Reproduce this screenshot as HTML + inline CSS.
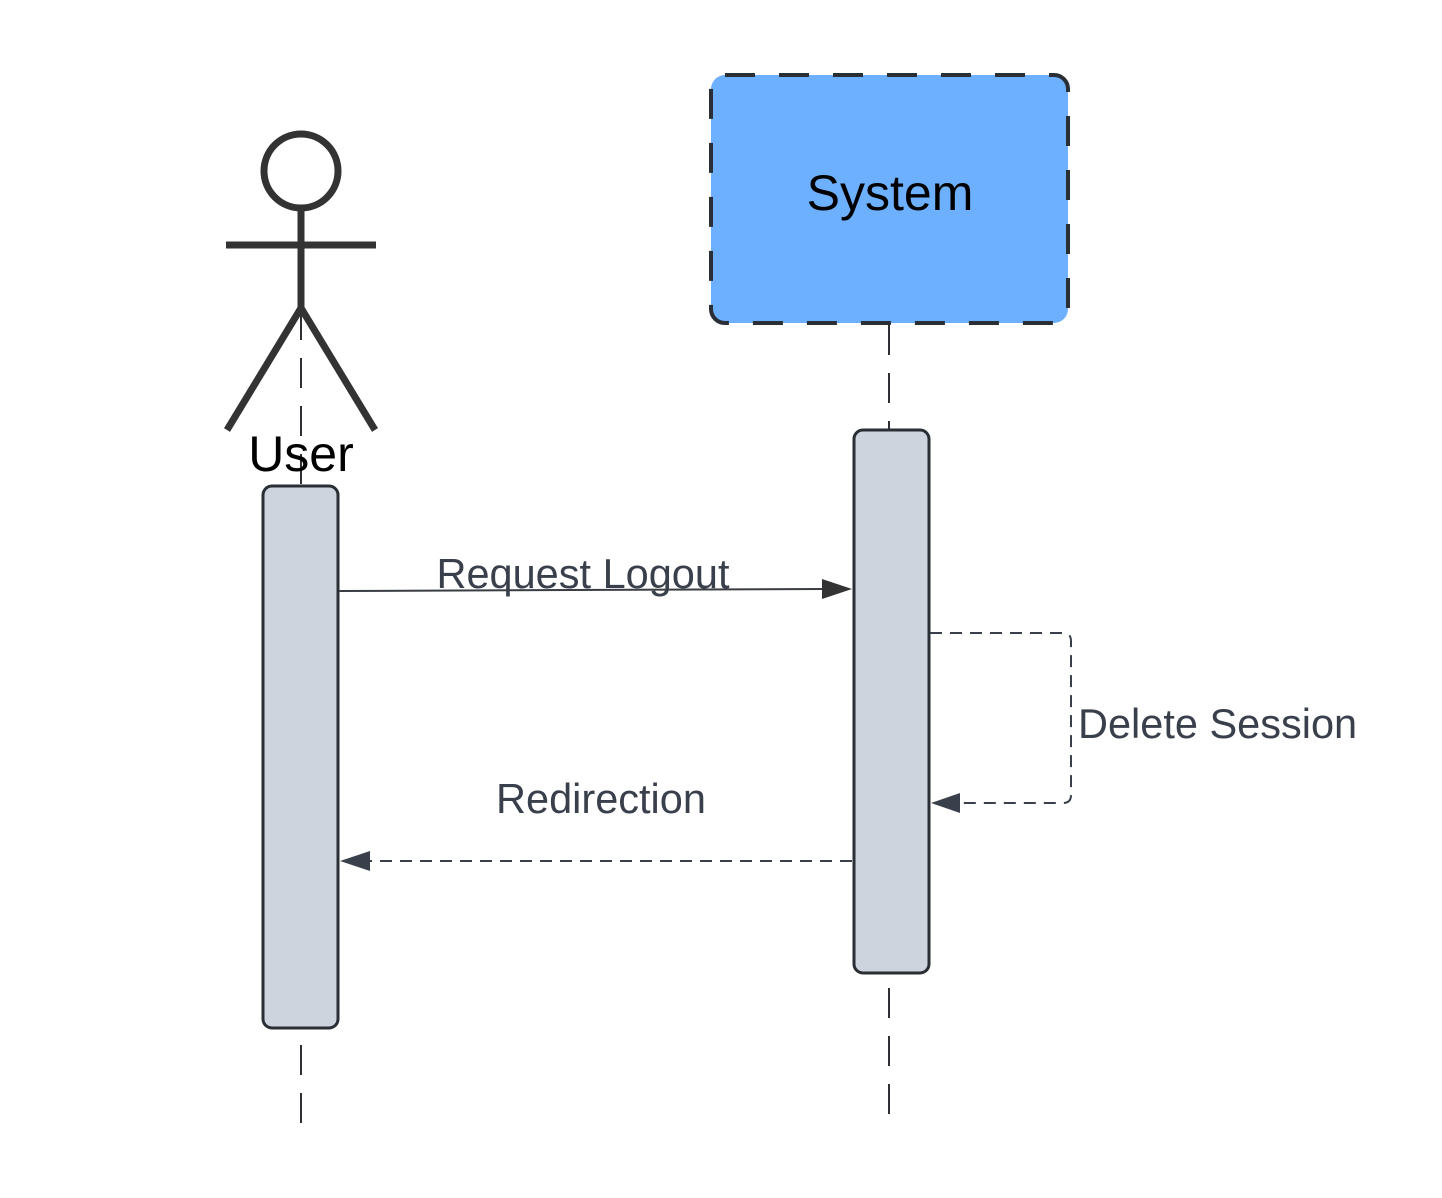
<!DOCTYPE html>
<html><head><style>html,body{margin:0;padding:0;background:#fff;}</style></head>
<body>
<svg width="1442" height="1198" xmlns="http://www.w3.org/2000/svg" style="display:block">
<g stroke="#2f3035" stroke-width="2" stroke-dasharray="30,18" fill="none">
<line x1="301" y1="310" x2="301" y2="486"/>
<line x1="301" y1="1045" x2="301" y2="1125"/>
<line x1="889" y1="325" x2="889" y2="430"/>
<line x1="889" y1="988" x2="889" y2="1125"/>
</g>
<rect x="711" y="75" width="357" height="248" rx="14" fill="#6db0ff" stroke="#2a2e35" stroke-width="4" stroke-dasharray="30,24"/>
<text x="890" y="210" font-family="Liberation Sans, sans-serif" font-size="50" text-anchor="middle" fill="#000">System</text>
<g stroke="#333" stroke-width="7" fill="none" stroke-linecap="butt">
<circle cx="301" cy="171" r="37"/>
<line x1="301" y1="208" x2="301" y2="308"/>
<line x1="226" y1="245" x2="376" y2="245"/>
<line x1="301" y1="308" x2="227" y2="430"/>
<line x1="301" y1="308" x2="375" y2="430"/>
</g>
<text x="301" y="471" font-family="Liberation Sans, sans-serif" font-size="50" text-anchor="middle" fill="#000">User</text>
<rect x="263" y="486" width="75" height="542" rx="9" fill="#cdd4dd" stroke="#2a2e35" stroke-width="3"/>
<rect x="854" y="430" width="75" height="543" rx="9" fill="#cdd4dd" stroke="#2a2e35" stroke-width="3"/>
<line x1="339" y1="591" x2="822" y2="589" stroke="#3a3d44" stroke-width="2"/>
<polygon points="822,579 852,589 822,599" fill="#333"/>
<text x="583" y="588" font-family="Liberation Sans, sans-serif" font-size="41.5" text-anchor="middle" fill="#3a404b">Request Logout</text>
<path d="M930,633 H1063 Q1071,633 1071,641 V795 Q1071,803 1063,803 H960" stroke="#3a404b" stroke-width="2" stroke-dasharray="12,8" fill="none"/>
<polygon points="960,793 931,803 960,813" fill="#3a404b"/>
<text x="1078" y="738" font-family="Liberation Sans, sans-serif" font-size="41.5" fill="#3a404b">Delete Session</text>
<line x1="852" y1="861" x2="370" y2="861" stroke="#3a404b" stroke-width="2" stroke-dasharray="12,8"/>
<polygon points="370,851 340,861 370,871" fill="#3a404b"/>
<text x="601" y="813" font-family="Liberation Sans, sans-serif" font-size="41.5" text-anchor="middle" fill="#3a404b">Redirection</text>
</svg>
</body></html>
